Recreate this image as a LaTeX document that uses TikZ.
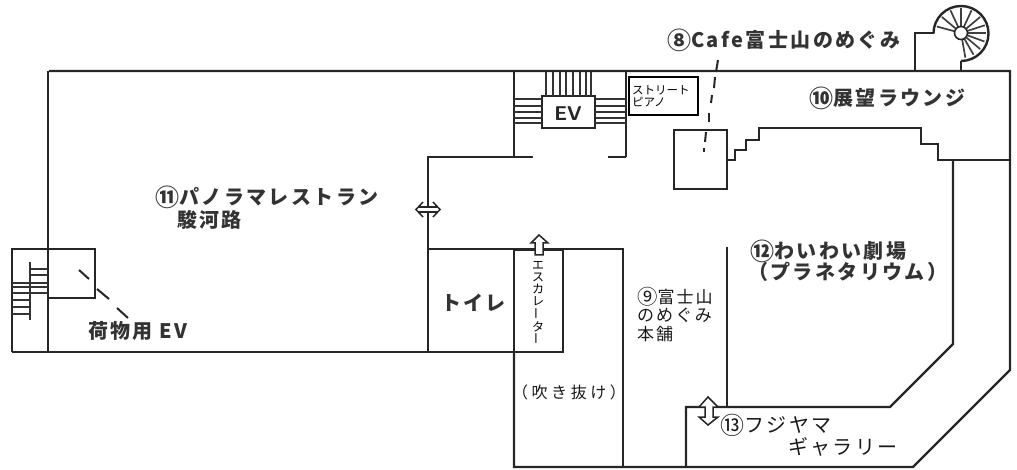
\documentclass[tikz,border=0pt]{standalone}
\usepackage{fontspec}
\usepackage{graphicx}
\newfontfamily\cjk[LetterSpace=12]{Noto Sans CJK JP}
\newfontfamily\cjkwide[LetterSpace=22]{Noto Sans CJK JP}
\newfontfamily\cjktight{Noto Sans CJK JP}
\newcommand{\bignum}[1]{\raisebox{-0.1em}{\scalebox{1.2}{#1}}}
\tikzset{
  wall/.style={black!85, line width=2.4pt},
  thinwall/.style={black!85, line width=1.6pt},
  rung/.style={black!80, line width=1.3pt},
  spoke/.style={black!75, line width=1.7pt},
  leader/.style={black!85, line width=2pt},
  doorsign/.style={black!85, line width=1.5pt, line join=miter},
  boldlabel/.style={anchor=west, inner sep=0pt, black!80, font=\fontsize{20}{22}\selectfont\cjk\bfseries},
  lightlabel/.style={anchor=west, inner sep=0pt, black!90, font=\fontsize{20}{22}\selectfont\cjk},
  shoplabel/.style={anchor=west, inner sep=0pt, black!90, font=\fontsize{17}{18}\selectfont\cjk},
  smalllabel/.style={anchor=west, inner sep=0pt, black, font=\fontsize{11.5}{11}\selectfont\cjktight}
}
\begin{document}
\begin{tikzpicture}[x=1pt,y=-1pt]

\useasboundingbox (0,0) rectangle (1017,470);

% outer walls
\draw[wall] (49,71)--(1010,71)--(1010,370)--(913,467)--(514,467)--(514,352);
\draw[wall] (48,71)--(48,352);
\draw[wall] (12,352)--(514,352);

% parcel lift and its stairs
\draw[wall] (48,249)--(12,249)--(12,352);
\draw[wall] (48,249)--(95,249)--(95,298)--(48,298);
\draw[rung] (30,262)--++(0,58);
\draw[rung] (30,269)--++(18,0);
\draw[rung] (30,275)--++(18,0);
\draw[rung] (12,283)--++(36,0);
\draw[rung] (12,287)--++(36,0);
\draw[rung] (12,293)--++(36,0);
\draw[rung] (12,300)--++(18,0);
\draw[rung] (12,307)--++(18,0);
\draw[rung] (12,314)--++(18,0);

% leader lines
\draw[leader] (79,270)--(89,279);
\draw[leader] (97,289)--(109,299);
\draw[leader] (117,308)--(128,318);

\draw[leader] (718,60)--(716,72);
\draw[leader] (715,77)--(714,88);
\draw[leader] (712,95)--(711,103);
\draw[leader] (709,113)--(709,122);
\draw[leader] (706,132)--(705,142);
\draw[leader] (704,148)--(704,152);

% restaurant and toilet walls
\draw[wall] (533,157)--(428,157)--(428,352);
\draw[wall] (428,249)--(623,249)--(623,467);
\draw[wall] (514,250)--(563,250)--(563,352)--(514,352)--cycle;

% lift core
\draw[wall] (514,71)--(514,157);
\draw[wall] (626,71)--(626,157);
\draw[wall] (608,157)--(626,157);
\draw[wall] (542,96)--(595,96)--(595,128)--(542,128)--cycle;

\draw[rung] (546,72)--++(0,24);
\draw[rung] (553,72)--++(0,24);
\draw[rung] (560,72)--++(0,24);
\draw[rung] (566,72)--++(0,24);
\draw[rung] (573,72)--++(0,24);
\draw[rung] (580,72)--++(0,24);
\draw[rung] (586,72)--++(0,24);
\draw[rung] (591,72)--++(0,24);

\draw[rung] (514,99)--++(28,0);
\draw[rung] (514,106)--++(28,0);
\draw[rung] (514,112)--++(28,0);
\draw[rung] (514,118)--++(28,0);
\draw[rung] (514,123)--++(28,0);

\draw[rung] (595,99)--++(31,0);
\draw[rung] (595,106)--++(31,0);
\draw[rung] (595,112)--++(31,0);
\draw[rung] (595,118)--++(31,0);
\draw[rung] (595,123)--++(31,0);

% lounge edge
\draw[wall] (674,130)--(727,130)--(727,189)--(674,189)--cycle;
\draw[wall] (727,160)--(735,160)--(735,150)--(746,150)--(746,140)--(759,140)--(759,128)--(921,128)--(921,144)--(938,144)--(938,160)--(1010,160);

% theatre and gallery
\draw[wall] (953,160)--(953,344)--(890,407)--(686,407)--(686,467);
\draw[thinwall] (727,247)--(727,407);

% spiral stairs
\draw[wall] (915,71)--(915,33)--(934,33);
\draw[wall] (961,71)--(961,61);
\draw[wall] (961,61) arc [start angle=90, end angle=-180, radius=27.5];
\draw[spoke] (961,33)++(-165:7)--++(-165:18);
\draw[spoke] (961,33)++(-140:7)--++(-140:18);
\draw[spoke] (961,33)++(-115:7)--++(-115:18);
\draw[spoke] (961,33)++(-90:7)--++(-90:18);
\draw[spoke] (961,33)++(-65:7)--++(-65:18);
\draw[spoke] (961,33)++(-40:7)--++(-40:18);
\draw[spoke] (961,33)++(-18:7)--++(-18:18);
\draw[spoke] (961,33)++(0:7)--++(0:18);
\draw[spoke] (961,33)++(20:7)--++(20:18);
\draw[spoke] (961,33)++(40:7)--++(40:18);
\draw[spoke] (961,33)++(60:7)--++(60:18);
\draw[spoke] (961,33)++(80:7)--++(80:18);
\draw[thinwall] (961,33) circle [radius=6.5];

% door signs
\fill[white] (416,207)--++(24,0)--++(0,5)--++(-24,0);
\draw[doorsign] (423,202)--(416,209.5)--(423,217);
\draw[doorsign] (433,202)--(440,209.5)--(433,217);
\draw[doorsign] (418,207)--++(20,0);
\draw[doorsign] (418,212)--++(20,0);
\draw[doorsign, fill=white] (539,235)--(548,243)--(543,243)--(543,255)--(535,255)--(535,243)--(531,243)--cycle;
\draw[doorsign, fill=white] (708,397)--(718,407)--(713,407)--(713,417)--(718,417)--(708,425)--(699,417)--(705,417)--(705,407)--(699,407)--cycle;

% piano box
\draw[black, line width=1.6pt] (629,77) rectangle (698,115);

% labels
\node[boldlabel] (cafe) at (667,40) {\bignum{⑧}Cafe富士山のめぐみ};
\node[boldlabel] (lounge) at (809,98) {\bignum{⑩}展望ラウンジ};
\node[boldlabel] (restaurant) at (155,197) {\bignum{⑪}パノラマレストラン};
\node[boldlabel] (surugaji) at (177,220) {駿河路};
\node[boldlabel] (parcel) at (88,331) {荷物用 EV};
\node[boldlabel] (theatre) at (750,251) {\bignum{⑫}わいわい劇場};
\node[boldlabel] (planetarium) at (748,272) {（プラネタリウム）};
\node[boldlabel] (toilet) at (441,303) {トイレ};
\node[anchor=center, inner sep=0pt, black!85, font=\fontsize{20}{22}\selectfont\sffamily\bfseries] (lift) at (568,114) {EV};

\node[lightlabel] (gallery) at (720,425) {\bignum{⑬}フジヤマ};
\node[lightlabel] (gallerytwo) at (788,447) {ギャラリー};
\node[shoplabel] (shop) at (637,297) {\bignum{⑨}富士山};
\node[shoplabel] (shoptwo) at (637,315) {のめぐみ};
\node[shoplabel] (shopthree) at (637,334) {本舗};
\node[anchor=west, inner sep=0pt, black!90, font=\fontsize{16}{18}\selectfont\cjkwide] (atrium) at (512,392) {（吹き抜け）};

\node[smalllabel] (piano) at (632,90) {ストリート};
\node[smalllabel] (pianotwo) at (632,102) {ピアノ};
\node[inner sep=0pt, align=center, black, font=\fontsize{12}{12.2}\selectfont\cjktight] (escalator) at (538,303) {エ\\ス\\カ\\レ\\\rotatebox{90}{ー}\\タ\\\rotatebox{90}{ー}};

\end{tikzpicture}
\end{document}
